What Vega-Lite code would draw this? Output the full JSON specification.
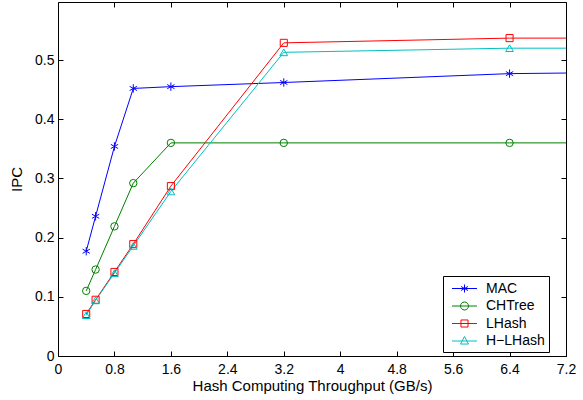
{
  "$schema": "https://vega.github.io/schema/vega-lite/v6.json",
  "width": 508,
  "height": 354,
  "autosize": {"type": "none"},
  "padding": {"left": 58, "top": 2, "right": 17, "bottom": 44},
  "background": "white",
  "config": {
    "font": "Liberation Sans",
    "view": {"stroke": null},
    "axis": {
      "grid": false,
      "domainColor": "black",
      "tickColor": "black",
      "labelColor": "black",
      "titleColor": "black",
      "labelFontSize": 14,
      "titleFontSize": 15,
      "titleFontWeight": "normal",
      "tickSize": -5,
      "domainWidth": 1,
      "tickWidth": 1
    }
  },
  "data": {
    "values": [
      {"x": 0.4, "y": 0.177, "series": "MAC"},
      {"x": 0.533, "y": 0.236, "series": "MAC"},
      {"x": 0.8, "y": 0.354, "series": "MAC"},
      {"x": 1.067, "y": 0.452, "series": "MAC"},
      {"x": 1.6, "y": 0.455, "series": "MAC"},
      {"x": 3.2, "y": 0.462, "series": "MAC"},
      {"x": 6.4, "y": 0.477, "series": "MAC"},
      {"x": 7.2, "y": 0.478, "series": "MAC"},
      {"x": 0.4, "y": 0.110, "series": "CHTree"},
      {"x": 0.533, "y": 0.146, "series": "CHTree"},
      {"x": 0.8, "y": 0.219, "series": "CHTree"},
      {"x": 1.067, "y": 0.292, "series": "CHTree"},
      {"x": 1.6, "y": 0.360, "series": "CHTree"},
      {"x": 3.2, "y": 0.360, "series": "CHTree"},
      {"x": 6.4, "y": 0.360, "series": "CHTree"},
      {"x": 7.2, "y": 0.360, "series": "CHTree"},
      {"x": 0.4, "y": 0.071, "series": "LHash"},
      {"x": 0.533, "y": 0.095, "series": "LHash"},
      {"x": 0.8, "y": 0.142, "series": "LHash"},
      {"x": 1.067, "y": 0.189, "series": "LHash"},
      {"x": 1.6, "y": 0.287, "series": "LHash"},
      {"x": 3.2, "y": 0.529, "series": "LHash"},
      {"x": 6.4, "y": 0.537, "series": "LHash"},
      {"x": 7.2, "y": 0.537, "series": "LHash"},
      {"x": 0.4, "y": 0.069, "series": "H\u2212LHash"},
      {"x": 0.533, "y": 0.094, "series": "H\u2212LHash"},
      {"x": 0.8, "y": 0.140, "series": "H\u2212LHash"},
      {"x": 1.067, "y": 0.186, "series": "H\u2212LHash"},
      {"x": 1.6, "y": 0.278, "series": "H\u2212LHash"},
      {"x": 3.2, "y": 0.513, "series": "H\u2212LHash"},
      {"x": 6.4, "y": 0.520, "series": "H\u2212LHash"},
      {"x": 7.2, "y": 0.520, "series": "H\u2212LHash"}
    ]
  },
  "resolve": {"axis": {"x": "independent", "y": "independent"}},
  "layer": [
    {
      "mark": {"type": "line", "strokeWidth": 1, "clip": true},
      "encoding": {
        "x": {
          "field": "x", "type": "quantitative",
          "scale": {"domain": [0, 7.2], "nice": false, "zero": false},
          "axis": {
            "title": "Hash Computing Throughput (GB/s)",
            "values": [0, 0.8, 1.6, 2.4, 3.2, 4, 4.8, 5.6, 6.4, 7.2],
            "format": ".1~f",
            "labelOverlap": false,
            "labelPadding": 11,
            "titlePadding": 2,
            "labelFlush": false
          }
        },
        "y": {
          "field": "y", "type": "quantitative",
          "scale": {"domain": [0, 0.598], "nice": false, "zero": false},
          "axis": {
            "title": "IPC",
            "values": [0, 0.1, 0.2, 0.3, 0.4, 0.5],
            "format": ".1~f",
            "labelOverlap": false,
            "labelPadding": 9,
            "titlePadding": 10,
            "labelFlush": false
          }
        },
        "color": {
          "field": "series", "type": "nominal",
          "scale": {
            "domain": ["MAC", "CHTree", "LHash", "H\u2212LHash"],
            "range": ["#0000ff", "#008000", "#ff0000", "#00bfbf"]
          },
          "legend": {
            "title": null,
            "orient": "none",
            "legendX": 385,
            "legendY": 274,
            "strokeColor": "black",
            "fillColor": "white",
            "padding": 4,
            "labelFontSize": 14,
            "labelColor": "black",
            "symbolSize": 256,
            "symbolStrokeWidth": 1,
            "symbolOffset": 9,
            "rowPadding": 1.5,
            "labelOffset": 13,
            "encode": {
              "symbols": {
                "update": {
                  "fill": {"value": "transparent"},
                  "shape": {"signal": "datum.value === 'MAC' ? 'M-1.56,0H1.56M0,-0.5V0.5M-0.43,-0.25L0.43,0.25M-0.43,0.25L0.43,-0.25' : datum.value === 'CHTree' ? 'M-1.56,0H1.56M0.5,0A0.5,0.5,0,1,1,-0.5,0A0.5,0.5,0,1,1,0.5,0' : datum.value === 'LHash' ? 'M-1.56,0H1.56M-0.44,-0.44H0.44V0.44H-0.44Z' : 'M-1.56,0H1.56M0,-0.56L0.5,0.38H-0.5Z'"}
                }
              }
            }
          }
        }
      }
    },
    {
      "transform": [{"filter": "datum.x < 7 && datum.series === 'MAC'"}],
      "mark": {"type": "point", "filled": false, "strokeWidth": 1, "opacity": 1, "size": 70, "shape": "M0,-1V1M-0.87,-0.5L0.87,0.5M-0.87,0.5L0.87,-0.5"},
      "encoding": {
        "x": {
          "field": "x", "type": "quantitative",
          "axis": {
            "orient": "top", "labels": false, "title": null,
            "values": [0, 0.8, 1.6, 2.4, 3.2, 4, 4.8, 5.6, 6.4, 7.2]
          }
        },
        "y": {
          "field": "y", "type": "quantitative",
          "axis": {
            "orient": "right", "labels": false, "title": null,
            "values": [0, 0.1, 0.2, 0.3, 0.4, 0.5]
          }
        },
        "color": {"field": "series", "type": "nominal", "legend": null}
      }
    },
    {
      "transform": [{"filter": "datum.x < 7 && datum.series === 'CHTree'"}],
      "mark": {"type": "point", "filled": false, "strokeWidth": 1, "opacity": 1, "size": 55, "shape": "circle"},
      "encoding": {
        "x": {"field": "x", "type": "quantitative", "axis": null},
        "y": {"field": "y", "type": "quantitative", "axis": null},
        "color": {"field": "series", "type": "nominal", "legend": null}
      }
    },
    {
      "transform": [{"filter": "datum.x < 7 && datum.series === 'LHash'"}],
      "mark": {"type": "point", "filled": false, "strokeWidth": 1, "opacity": 1, "size": 50, "shape": "square"},
      "encoding": {
        "x": {"field": "x", "type": "quantitative", "axis": null},
        "y": {"field": "y", "type": "quantitative", "axis": null},
        "color": {"field": "series", "type": "nominal", "legend": null}
      }
    },
    {
      "transform": [{"filter": "datum.x < 7 && datum.series === 'H\u2212LHash'"}],
      "mark": {"type": "point", "filled": false, "strokeWidth": 1, "opacity": 1, "size": 60, "shape": "triangle-up"},
      "encoding": {
        "x": {"field": "x", "type": "quantitative", "axis": null},
        "y": {"field": "y", "type": "quantitative", "axis": null},
        "color": {"field": "series", "type": "nominal", "legend": null}
      }
    }
  ]
}
